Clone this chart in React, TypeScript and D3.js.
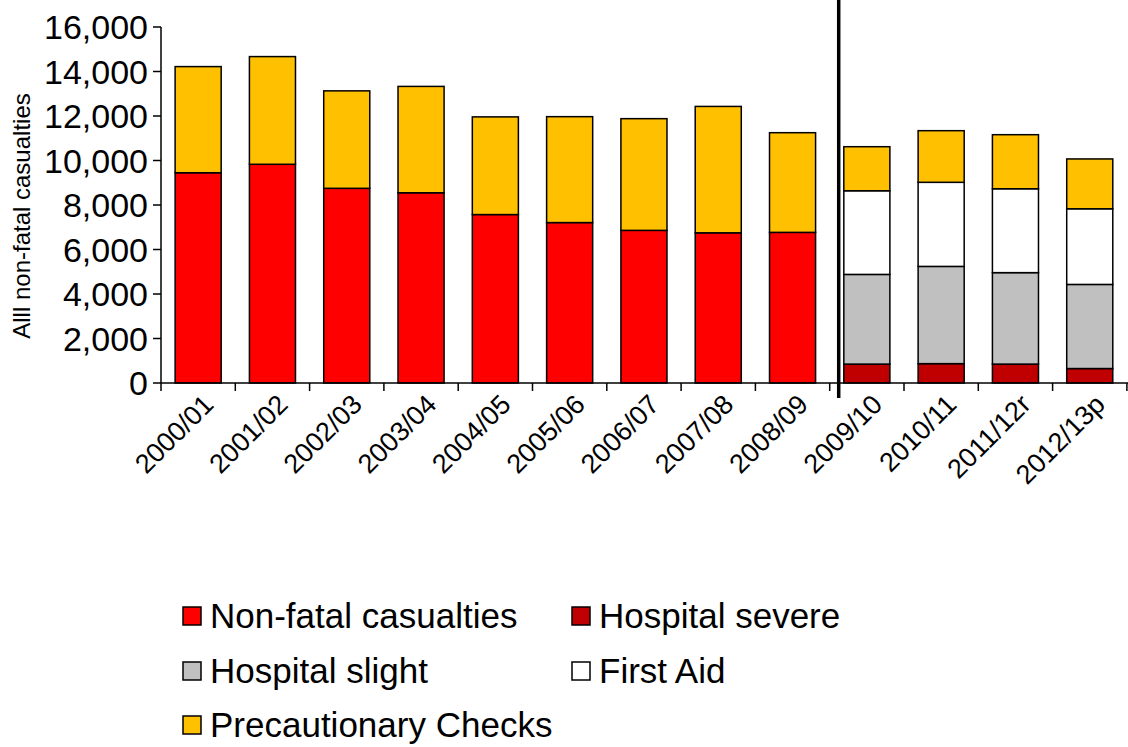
import React from "react";
import * as d3 from "d3";

const categories = ["2000/01","2001/02","2002/03","2003/04","2004/05","2005/06","2006/07","2007/08","2008/09","2009/10","2010/11","2011/12r","2012/13p"];
const nonFatal = [9450, 9830, 8750, 8550, 7570, 7210, 6860, 6750, 6770, 0, 0, 0, 0];
const hospitalSevere = [0, 0, 0, 0, 0, 0, 0, 0, 0, 850, 870, 850, 650];
const hospitalSlight = [0, 0, 0, 0, 0, 0, 0, 0, 0, 4030, 4370, 4110, 3780];
const firstAid = [0, 0, 0, 0, 0, 0, 0, 0, 0, 3760, 3780, 3770, 3400];
const precautionary = [4770, 4840, 4380, 4780, 4390, 4760, 5020, 5680, 4480, 1980, 2320, 2430, 2240];
const yTicks = [0, 2000, 4000, 6000, 8000, 10000, 12000, 14000, 16000];

const seriesDefs = [
  { key: "nonFatal", label: "Non-fatal casualties", color: "#FF0000", values: nonFatal },
  { key: "hospitalSevere", label: "Hospital severe", color: "#C00000", values: hospitalSevere },
  { key: "hospitalSlight", label: "Hospital slight", color: "#C0C0C0", values: hospitalSlight },
  { key: "firstAid", label: "First Aid", color: "#FFFFFF", values: firstAid },
  { key: "precautionary", label: "Precautionary Checks", color: "#FFC000", values: precautionary },
];

const W = 1128, H = 747;
const left = 161, step0 = 74.3, top = 27, bottom = 383;
const right = left + step0 * categories.length;
const font = "'Liberation Sans', Arial, sans-serif";

export default function App() {
  const x = d3.scaleBand<string>().domain(categories).range([left, right]).paddingInner(0.38).paddingOuter(0.19);
  const y = d3.scaleLinear().domain([0, 16000]).range([bottom, top]);
  const step = x.step();

  const rows = categories.map((c, i) => {
    const r: any = { cat: c };
    seriesDefs.forEach(s => { r[s.key] = s.values[i]; });
    return r;
  });
  const stacked = d3.stack<any>().keys(seriesDefs.map(s => s.key))(rows);

  const boundaries = d3.range(categories.length + 1).map(i => left + i * step);
  const dividerX = left + 9 * step + 9;

  const legendItems = [
    { s: seriesDefs[0], col: 0, row: 0 },
    { s: seriesDefs[1], col: 1, row: 0 },
    { s: seriesDefs[2], col: 0, row: 1 },
    { s: seriesDefs[3], col: 1, row: 1 },
    { s: seriesDefs[4], col: 0, row: 2 },
  ];
  const legX = [183, 572];
  const legY = [616, 671, 725];

  return (
    <svg width={W} height={H} style={{ position: "absolute", left: 0, top: 0, background: "#fff" }} fontFamily={font}>
      {stacked.map((layer, li) => (
        <g key={layer.key}>
          {layer.map((d, i) => {
            const v = d[1] - d[0];
            if (v <= 0) return null;
            return (
              <rect key={i} x={x(categories[i])} y={y(d[1])} width={x.bandwidth()} height={y(d[0]) - y(d[1])}
                fill={seriesDefs[li].color} stroke="#000" strokeWidth={1.5} />
            );
          })}
        </g>
      ))}
      <line x1={left} x2={left} y1={top} y2={bottom} stroke="#000" strokeWidth={1.5} />
      {yTicks.map(t => (
        <g key={t}>
          <line x1={left - 8} x2={left} y1={y(t)} y2={y(t)} stroke="#000" strokeWidth={1.5} />
          <text x={left - 13} y={y(t)} dy="0.36em" textAnchor="end" fontSize={34} fill="#000">{d3.format(",")(t)}</text>
        </g>
      ))}
      <line x1={left} x2={W} y1={bottom} y2={bottom} stroke="#000" strokeWidth={1.5} />
      {boundaries.map((b, i) => (
        <line key={i} x1={b} x2={b} y1={bottom} y2={bottom + 8} stroke="#000" strokeWidth={1.5} />
      ))}
      {categories.map(c => {
        const cx = (x(c) as number) + x.bandwidth() / 2;
        return (
          <text key={c} transform={`translate(${cx + 17},${406}) rotate(-45)`} textAnchor="end" fontSize={27} fill="#000">{c}</text>
        );
      })}
      <line x1={dividerX} x2={dividerX} y1={0} y2={398} stroke="#000" strokeWidth={3.5} />
      <text transform={`translate(30,216) rotate(-90)`} textAnchor="middle" fontSize={24} fill="#000">Alll non-fatal casualties</text>
      {legendItems.map(({ s, col, row }) => (
        <g key={s.key}>
          <rect x={legX[col]} y={legY[row] - 9} width={18} height={18} fill={s.color} stroke="#000" strokeWidth={1.5} />
          <text x={legX[col] + 27} y={legY[row]} dy="0.35em" fontSize={35} fill="#000">{s.label}</text>
        </g>
      ))}
    </svg>
  );
}
